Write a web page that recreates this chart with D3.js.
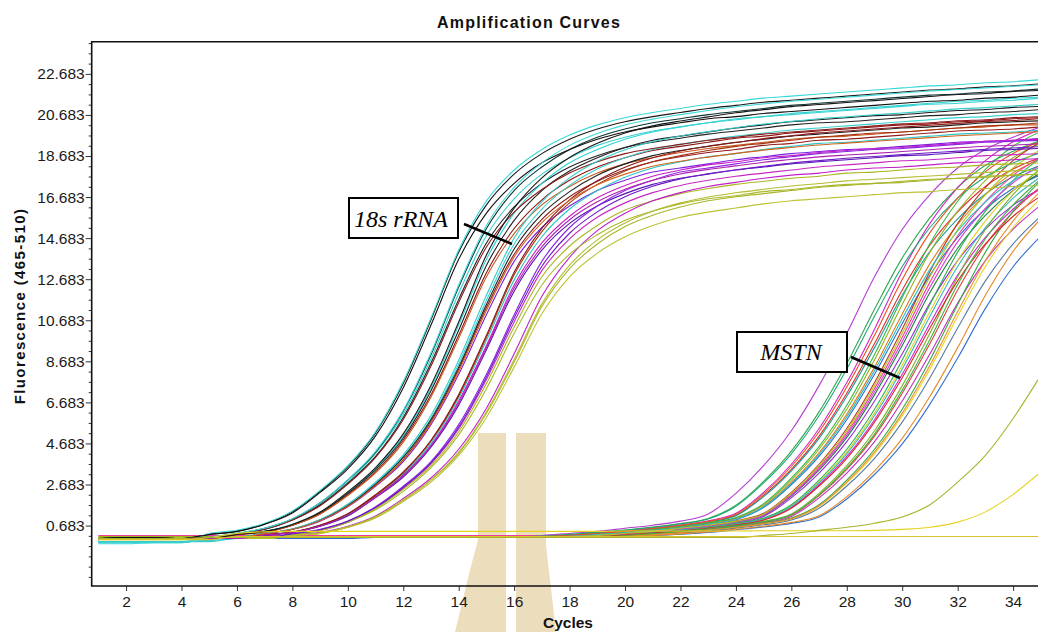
<!DOCTYPE html>
<html><head><meta charset="utf-8">
<script src="https://cdn.jsdelivr.net/npm/d3@7"></script>
<style>
html,body{margin:0;padding:0;background:#fff;}
svg{display:block;}
</style></head><body>
<svg id="chart" width="1038" height="632"></svg>
<script>
// ---------------- data ----------------
const cycles = [1,2,3,4,5,6,7,8,9,10,11,12,13,14,15,16,17,18,19,20,21,22,23,24,25,26,27,28,29,30,31,32,33,34,35];
const xTicks = [2,4,6,8,10,12,14,16,18,20,22,24,26,28,30,32,34];
const yTicks = [0.683,2.683,4.683,6.683,8.683,10.683,12.683,14.683,16.683,18.683,20.683,22.683];

const rrna18sColors = ["#1a1a1a","#38d8d8","#38d0d0","#0e3434","#222222","#30d4d4","#8e1414","#1e1e1e","#c85a1e","#3cd0d0","#901c1c","#7b1fe0","#202020","#c81ec8","#2cc4c4","#5a14b4","#a4300e","#c828c0","#8a28e0","#a9b520","#c020c8","#a8b42a","#bcc232","#aab828","#111111","#8a1a1a","#40dada","#181818","#34cccc","#8c1818","#6a18c8","#b4bc30","#d0641e","#b020b0"];
const rrna18sValues = [
[0.0,0.1,0.05,0.05,0.25,0.4,0.75,1.35,2.35,3.55,5.2,7.6,10.7,14.0,16.3,17.8,18.8,19.5,20.0,20.35,20.6,20.8,21.0,21.15,21.3,21.4,21.5,21.6,21.7,21.8,21.9,21.95,22.05,22.1,22.2],
[-0.2,-0.2,-0.15,-0.15,0.3,0.45,0.8,1.4,2.4,3.6,5.25,7.7,10.8,14.1,16.5,18.0,19.0,19.7,20.2,20.55,20.8,21.0,21.2,21.35,21.5,21.6,21.7,21.8,21.9,22.0,22.1,22.15,22.25,22.3,22.4],
[-0.15,-0.15,-0.15,-0.15,0.1,0.3,0.5,1.0,1.75,2.8,4.2,6.1,8.8,12.0,14.8,16.6,17.8,18.6,19.2,19.6,19.9,20.1,20.3,20.45,20.6,20.7,20.8,20.9,21.0,21.1,21.2,21.25,21.35,21.4,21.5],
[0.05,0.05,0.05,0.05,0.1,0.3,0.55,1.0,1.8,2.9,4.25,6.25,9.0,12.3,15.15,17.0,18.15,19.0,19.6,20.0,20.3,20.5,20.7,20.85,21.0,21.15,21.25,21.35,21.45,21.55,21.65,21.7,21.8,21.85,21.95],
[0.05,0.05,0.05,0.05,0.1,0.3,0.5,0.95,1.7,2.75,4.05,5.95,8.6,11.7,14.45,16.2,17.35,18.15,18.7,19.1,19.35,19.55,19.75,19.9,20.05,20.2,20.3,20.35,20.45,20.55,20.65,20.7,20.8,20.85,20.95],
[-0.1,-0.1,-0.1,-0.1,0.0,0.25,0.4,0.75,1.3,2.3,3.45,5.05,7.4,10.45,13.65,15.9,17.35,18.35,19.0,19.5,19.85,20.1,20.3,20.5,20.6,20.75,20.85,20.95,21.05,21.15,21.25,21.35,21.4,21.5,21.55],
[0.05,0.05,0.05,0.05,0.05,0.25,0.35,0.7,1.25,2.2,3.3,4.85,7.05,9.95,13.0,15.15,16.55,17.5,18.15,18.6,18.95,19.15,19.35,19.55,19.65,19.8,19.9,20.0,20.1,20.2,20.25,20.35,20.4,20.5,20.55],
[0.05,0.1,0.1,0.05,0.05,0.25,0.4,0.7,1.3,2.25,3.4,4.95,7.25,10.2,13.35,15.55,17.0,17.95,18.6,19.1,19.45,19.65,19.85,20.05,20.2,20.35,20.45,20.55,20.65,20.7,20.8,20.9,20.95,21.05,21.1],
[0.05,0.05,0.05,0.05,0.05,0.25,0.35,0.7,1.25,2.15,3.25,4.75,6.95,9.8,12.8,14.9,16.3,17.2,17.85,18.3,18.6,18.85,19.05,19.2,19.35,19.5,19.6,19.65,19.75,19.85,19.95,20.05,20.1,20.2,20.2],
[-0.1,-0.1,-0.1,-0.1,0.0,0.1,0.3,0.5,0.95,1.7,2.75,4.05,5.9,8.55,11.65,14.4,16.1,17.25,18.05,18.6,19.0,19.25,19.45,19.65,19.8,19.95,20.05,20.15,20.25,20.35,20.45,20.55,20.6,20.7,20.75],
[0.05,0.05,0.05,0.05,0.05,0.1,0.3,0.5,0.95,1.65,2.65,3.9,5.75,8.3,11.3,13.9,15.6,16.7,17.45,18.0,18.4,18.65,18.85,19.0,19.2,19.3,19.45,19.5,19.6,19.7,19.8,19.9,19.95,20.0,20.1],
[0.05,0.05,0.05,0.05,0.05,0.1,0.3,0.5,0.9,1.6,2.6,3.8,5.6,8.05,10.95,13.55,15.2,16.25,17.0,17.5,17.9,18.1,18.3,18.5,18.65,18.8,18.9,19.0,19.05,19.15,19.25,19.35,19.4,19.45,19.55],
[0.05,0.05,0.05,0.05,0.05,0.1,0.3,0.5,0.95,1.65,2.7,4.0,5.85,8.4,11.45,14.15,15.85,16.95,17.75,18.3,18.7,18.95,19.15,19.35,19.5,19.65,19.75,19.85,19.95,20.05,20.1,20.2,20.3,20.35,20.4],
[0.05,0.05,0.05,0.05,0.05,0.05,0.2,0.35,0.65,1.2,2.1,3.15,4.6,6.75,9.45,12.4,14.45,15.75,16.65,17.25,17.7,18.0,18.25,18.4,18.6,18.7,18.85,18.95,19.05,19.1,19.2,19.3,19.4,19.45,19.5],
[-0.1,-0.1,-0.1,-0.1,-0.05,0.05,0.25,0.35,0.7,1.2,2.15,3.2,4.7,6.9,9.7,12.65,14.75,16.1,17.0,17.65,18.1,18.4,18.65,18.8,19.0,19.15,19.3,19.35,19.45,19.55,19.65,19.75,19.8,19.85,19.95],
[0.05,0.05,0.05,0.05,0.05,0.05,0.2,0.35,0.65,1.15,2.05,3.05,4.5,6.55,9.25,12.1,14.1,15.4,16.25,16.85,17.3,17.6,17.8,18.0,18.15,18.3,18.4,18.5,18.6,18.7,18.75,18.85,18.95,19.0,19.05],
[0.05,0.05,0.05,0.05,0.05,0.05,0.25,0.35,0.7,1.25,2.15,3.25,4.8,7.0,9.85,12.9,15.0,16.4,17.3,17.95,18.4,18.7,18.95,19.15,19.3,19.45,19.6,19.7,19.8,19.85,19.95,20.05,20.15,20.2,20.3],
[0.05,0.05,0.05,0.05,0.05,0.05,0.1,0.25,0.45,0.85,1.55,2.5,3.7,5.4,7.8,10.6,13.1,14.65,15.7,16.4,16.9,17.25,17.5,17.7,17.85,18.0,18.15,18.25,18.35,18.45,18.5,18.6,18.7,18.75,18.8],
[0.05,0.05,0.05,0.05,0.05,0.05,0.1,0.3,0.5,0.9,1.6,2.6,3.8,5.6,8.05,10.95,13.55,15.2,16.25,17.0,17.5,17.9,18.1,18.3,18.5,18.65,18.8,18.9,19.0,19.05,19.15,19.25,19.35,19.4,19.45],
[0.05,0.05,0.05,0.05,0.05,0.05,0.1,0.25,0.45,0.85,1.5,2.45,3.6,5.25,7.6,10.35,12.8,14.3,15.3,16.05,16.5,16.85,17.1,17.3,17.45,17.6,17.7,17.85,17.9,18.0,18.1,18.15,18.25,18.3,18.35],
[0.05,0.05,0.05,0.05,0.05,0.05,0.05,0.2,0.35,0.65,1.15,2.0,3.0,4.4,6.4,9.05,11.85,13.75,15.05,15.9,16.5,16.9,17.2,17.4,17.6,17.75,17.85,18.0,18.1,18.15,18.25,18.35,18.4,18.5,18.55],
[0.05,0.05,0.05,0.05,0.05,0.05,0.05,0.2,0.3,0.6,1.1,1.9,2.9,4.2,6.15,8.65,11.35,13.2,14.4,15.25,15.8,16.2,16.5,16.7,16.85,17.0,17.15,17.25,17.35,17.4,17.5,17.6,17.65,17.75,17.8],
[0.05,0.05,0.05,0.05,0.05,0.05,0.05,0.2,0.3,0.6,1.05,1.85,2.8,4.1,5.95,8.4,11.0,12.8,13.95,14.75,15.3,15.7,15.95,16.15,16.35,16.5,16.6,16.7,16.8,16.9,16.95,17.05,17.1,17.2,17.25],
[0.05,0.05,0.05,0.05,0.05,0.05,0.1,0.25,0.45,0.85,1.45,2.35,3.5,5.1,7.35,10.05,12.4,13.9,14.85,15.55,16.0,16.35,16.6,16.75,16.95,17.05,17.2,17.3,17.35,17.45,17.55,17.6,17.7,17.75,17.8],
[0.05,0.1,0.1,0.05,0.25,0.4,0.75,1.3,2.3,3.45,5.05,7.4,10.45,13.65,15.9,17.35,18.35,19.0,19.5,19.85,20.1,20.3,20.5,20.6,20.75,20.85,20.95,21.05,21.15,21.25,21.35,21.4,21.5,21.55,21.65],
[0.05,0.05,0.05,0.05,0.1,0.3,0.5,0.95,1.65,2.7,4.0,5.85,8.45,11.55,14.25,15.95,17.05,17.85,18.4,18.8,19.05,19.25,19.45,19.6,19.75,19.85,19.95,20.05,20.15,20.25,20.3,20.4,20.45,20.55,20.6],
[-0.1,-0.1,-0.1,-0.1,0.1,0.32,0.55,1.02,1.8,2.92,4.3,6.3,9.1,12.4,15.3,17.15,18.35,19.2,19.78,20.2,20.48,20.7,20.9,21.08,21.22,21.35,21.45,21.55,21.65,21.75,21.85,21.92,22.0,22.08,22.15],
[0.05,0.05,0.05,0.05,0.05,0.25,0.4,0.74,1.34,2.33,3.51,5.15,7.52,10.6,13.86,16.14,17.62,18.61,19.3,19.8,20.15,20.39,20.59,20.79,20.94,21.09,21.19,21.29,21.38,21.48,21.58,21.68,21.73,21.83,21.88],
[-0.1,-0.1,-0.1,-0.1,-0.1,0.1,0.31,0.53,0.98,1.73,2.8,4.13,6.05,8.74,11.9,14.69,16.46,17.62,18.43,18.99,19.39,19.66,19.87,20.06,20.24,20.37,20.5,20.59,20.69,20.78,20.88,20.98,21.04,21.12,21.2],
[0.05,0.05,0.05,0.05,0.05,0.05,0.23,0.37,0.7,1.26,2.19,3.3,4.84,7.07,9.95,13.02,15.16,16.55,17.48,18.14,18.6,18.93,19.16,19.34,19.53,19.67,19.81,19.9,20.0,20.09,20.18,20.27,20.37,20.41,20.51],
[0.05,0.05,0.05,0.05,0.05,0.05,0.09,0.28,0.48,0.89,1.57,2.54,3.74,5.48,7.92,10.79,13.31,14.92,15.96,16.7,17.21,17.57,17.82,18.01,18.18,18.34,18.46,18.57,18.66,18.75,18.84,18.92,19.01,19.07,19.14],
[0.05,0.05,0.05,0.05,0.05,0.05,0.05,0.21,0.33,0.62,1.11,1.93,2.91,4.26,6.23,8.77,11.48,13.37,14.6,15.42,15.99,16.4,16.69,16.89,17.06,17.22,17.34,17.47,17.55,17.63,17.71,17.79,17.88,17.96,18.0],
[0.05,0.05,0.05,0.05,0.05,0.09,0.29,0.5,0.92,1.62,2.63,3.87,5.67,8.19,11.16,13.77,15.44,16.52,17.28,17.8,18.18,18.43,18.63,18.81,18.97,19.1,19.22,19.31,19.4,19.49,19.58,19.67,19.73,19.8,19.87],
[0.05,0.05,0.05,0.05,0.05,0.05,0.22,0.35,0.66,1.18,2.06,3.11,4.55,6.65,9.36,12.25,14.26,15.58,16.45,17.06,17.5,17.81,18.03,18.2,18.38,18.51,18.64,18.73,18.81,18.9,18.99,19.08,19.16,19.21,19.29]
];

const mstnColors = ["#b43cd2","#2fa84f","#d028c8","#dd3030","#1c9c9c","#9cb020","#e07a20","#3a6ad0","#38b848","#f03c9c","#208040","#b83a1a","#9a2ad8","#e0d020","#2cb050","#d02ad0","#30b8c0","#e04040","#7fb030","#c030c0","#e8d420","#5a7aa0","#3aa848","#3070d0","#e88a28","#20a878","#e85020","#28c0c8","#d040d0","#d82828","#40b040","#e89030","#b0c820"];
const mstnValues = [
[0.1,0.1,0.1,0.1,0.1,0.1,0.1,0.1,0.1,0.1,0.1,0.1,0.1,0.1,0.1,0.15,0.2,0.3,0.4,0.55,0.7,0.9,1.25,2.25,3.6,5.3,7.5,10.05,12.8,15.1,16.8,18.1,19.0,19.6,20.1],
[0.1,0.1,0.1,0.1,0.1,0.1,0.1,0.1,0.1,0.1,0.1,0.1,0.1,0.1,0.1,0.12,0.17,0.25,0.35,0.46,0.61,0.78,1.03,1.67,2.84,4.31,6.22,8.58,11.22,13.72,15.68,17.15,18.23,18.91,19.45],
[0.1,0.1,0.1,0.1,0.1,0.1,0.1,0.1,0.1,0.1,0.1,0.1,0.1,0.1,0.1,0.1,0.15,0.2,0.3,0.4,0.56,0.71,0.92,1.28,2.3,3.67,5.41,7.65,10.25,13.06,15.4,17.14,18.46,19.38,19.99],
[0.05,0.05,0.05,0.05,0.05,0.1,0.1,0.1,0.1,0.1,0.1,0.1,0.1,0.1,0.1,0.1,0.14,0.19,0.29,0.38,0.52,0.67,0.86,1.19,2.14,3.42,5.04,7.13,9.55,12.16,14.35,15.96,17.2,18.05,18.62],
[0.1,0.1,0.1,0.1,0.1,0.1,0.1,0.1,0.1,0.1,0.1,0.1,0.1,0.1,0.1,0.1,0.14,0.19,0.28,0.37,0.51,0.65,0.84,1.16,2.09,3.35,4.93,6.98,9.35,11.9,14.04,15.62,16.83,17.67,18.23],
[0.15,0.15,0.15,0.15,0.15,0.15,0.15,0.15,0.15,0.15,0.15,0.15,0.15,0.15,0.15,0.15,0.15,0.17,0.25,0.35,0.47,0.62,0.8,1.05,1.7,2.9,4.4,6.35,8.75,11.45,14.0,16.0,17.5,18.6,19.3],
[0.1,0.1,0.1,0.1,0.1,0.1,0.1,0.1,0.1,0.1,0.1,0.1,0.1,0.1,0.1,0.1,0.12,0.16,0.24,0.34,0.45,0.6,0.77,1.01,1.63,2.78,4.22,6.1,8.4,10.99,13.44,15.36,16.8,17.86,18.53],
[0.05,0.05,0.05,0.05,0.05,0.05,0.05,0.05,0.05,0.05,0.1,0.1,0.1,0.1,0.1,0.1,0.11,0.16,0.23,0.32,0.43,0.57,0.74,0.97,1.56,2.67,4.05,5.84,8.05,10.53,12.88,14.72,16.1,17.11,17.76],
[0.1,0.1,0.1,0.1,0.1,0.1,0.1,0.1,0.1,0.1,0.1,0.1,0.1,0.1,0.1,0.1,0.12,0.18,0.26,0.36,0.48,0.64,0.82,1.08,1.75,2.99,4.53,6.54,9.01,11.79,14.42,16.48,18.03,19.16,19.88],
[0.2,0.2,0.2,0.2,0.2,0.2,0.2,0.2,0.2,0.2,0.2,0.2,0.2,0.2,0.2,0.2,0.2,0.2,0.22,0.29,0.39,0.54,0.69,0.88,1.23,2.21,3.53,5.19,7.35,9.85,12.54,14.8,16.46,17.74,18.62],
[0.1,0.1,0.1,0.1,0.1,0.1,0.1,0.1,0.1,0.1,0.1,0.1,0.1,0.1,0.1,0.1,0.1,0.14,0.19,0.28,0.38,0.52,0.66,0.85,1.18,2.12,3.38,4.98,7.05,9.45,12.03,14.19,15.79,17.01,17.86],
[0.1,0.1,0.1,0.1,0.1,0.1,0.1,0.1,0.1,0.1,0.1,0.1,0.1,0.1,0.1,0.1,0.1,0.15,0.2,0.31,0.41,0.56,0.71,0.92,1.28,2.3,3.67,5.41,7.65,10.25,13.06,15.4,17.14,18.46,19.38],
[0.1,0.1,0.1,0.1,0.1,0.1,0.1,0.1,0.1,0.1,0.1,0.1,0.1,0.1,0.1,0.1,0.1,0.14,0.18,0.27,0.36,0.5,0.63,0.81,1.13,2.03,3.24,4.77,6.75,9.05,11.52,13.59,15.12,16.29,17.1],
[0.1,0.1,0.1,0.1,0.1,0.1,0.1,0.1,0.1,0.1,0.1,0.1,0.1,0.1,0.1,0.1,0.1,0.12,0.17,0.24,0.34,0.46,0.6,0.78,1.02,1.65,2.81,4.27,6.16,8.49,11.11,13.58,15.52,16.98,18.04],
[0.1,0.1,0.1,0.1,0.1,0.1,0.1,0.1,0.1,0.1,0.1,0.1,0.1,0.1,0.1,0.1,0.1,0.12,0.17,0.25,0.35,0.47,0.62,0.8,1.05,1.7,2.9,4.4,6.35,8.75,11.45,14.0,16.0,17.5,18.6],
[0.1,0.1,0.1,0.1,0.1,0.1,0.1,0.1,0.1,0.1,0.1,0.1,0.1,0.1,0.1,0.1,0.1,0.1,0.16,0.23,0.32,0.43,0.57,0.74,0.97,1.56,2.67,4.05,5.84,8.05,10.53,12.88,14.72,16.1,17.11],
[0.1,0.1,0.1,0.1,0.1,0.1,0.1,0.1,0.1,0.1,0.1,0.1,0.1,0.1,0.1,0.1,0.1,0.1,0.16,0.24,0.33,0.45,0.59,0.76,1.0,1.62,2.76,4.18,6.03,8.31,10.88,13.3,15.2,16.63,17.67],
[0.1,0.1,0.1,0.1,0.1,0.1,0.1,0.1,0.1,0.1,0.1,0.1,0.1,0.1,0.1,0.1,0.1,0.1,0.14,0.19,0.29,0.38,0.52,0.67,0.86,1.19,2.14,3.42,5.04,7.13,9.55,12.16,14.35,15.96,17.2],
[0.1,0.1,0.1,0.1,0.1,0.1,0.1,0.1,0.1,0.1,0.1,0.1,0.1,0.1,0.1,0.1,0.1,0.1,0.15,0.2,0.3,0.4,0.55,0.7,0.9,1.25,2.25,3.6,5.3,7.5,10.05,12.8,15.1,16.8,18.1],
[0.1,0.1,0.1,0.1,0.1,0.1,0.1,0.1,0.1,0.1,0.1,0.1,0.1,0.1,0.1,0.1,0.1,0.1,0.12,0.18,0.27,0.36,0.5,0.63,0.81,1.13,2.03,3.24,4.77,6.75,9.05,11.52,13.59,15.12,16.29],
[0.1,0.1,0.1,0.1,0.1,0.1,0.1,0.1,0.1,0.1,0.1,0.1,0.1,0.1,0.1,0.1,0.1,0.1,0.12,0.16,0.24,0.33,0.45,0.59,0.76,1.0,1.62,2.76,4.18,6.03,8.31,10.88,13.3,15.2,16.63],
[0.1,0.1,0.1,0.1,0.1,0.1,0.1,0.1,0.1,0.1,0.1,0.1,0.1,0.1,0.1,0.1,0.1,0.1,0.1,0.15,0.22,0.32,0.42,0.56,0.72,0.95,1.53,2.61,3.96,5.72,7.88,10.31,12.6,14.4,15.75],
[0.1,0.1,0.1,0.1,0.1,0.1,0.1,0.1,0.1,0.1,0.1,0.1,0.1,0.1,0.1,0.1,0.1,0.1,0.1,0.16,0.25,0.35,0.47,0.62,0.8,1.05,1.7,2.9,4.4,6.35,8.75,11.45,14.0,16.0,17.5],
[0.1,0.1,0.1,0.1,0.1,0.1,0.1,0.1,0.1,0.1,0.1,0.1,0.1,0.1,0.1,0.1,0.1,0.1,0.1,0.13,0.18,0.26,0.35,0.48,0.62,0.79,1.1,1.98,3.17,4.66,6.6,8.84,11.26,13.29,14.78],
[0.1,0.1,0.1,0.1,0.1,0.1,0.1,0.1,0.1,0.1,0.1,0.1,0.1,0.1,0.1,0.1,0.1,0.1,0.1,0.14,0.2,0.28,0.37,0.51,0.65,0.84,1.16,2.09,3.35,4.93,6.98,9.35,11.9,14.04,15.62],
[0.1,0.1,0.1,0.1,0.1,0.1,0.1,0.1,0.1,0.1,0.1,0.1,0.1,0.1,0.1,0.12,0.17,0.25,0.35,0.45,0.59,0.76,1.0,1.62,2.76,4.18,6.03,8.31,10.88,13.3,15.2,16.63,17.67,18.34,18.86],
[0.1,0.1,0.1,0.1,0.1,0.1,0.1,0.1,0.1,0.1,0.1,0.1,0.1,0.1,0.1,0.1,0.15,0.2,0.3,0.4,0.54,0.69,0.89,1.24,2.23,3.56,5.25,7.43,9.95,12.67,14.95,16.63,17.92,18.81,19.4],
[0.1,0.1,0.1,0.1,0.1,0.1,0.1,0.1,0.1,0.1,0.1,0.1,0.1,0.1,0.1,0.1,0.12,0.16,0.24,0.33,0.44,0.58,0.75,0.99,1.6,2.73,4.14,5.97,8.23,10.76,13.16,15.04,16.45,17.48,18.14],
[0.1,0.1,0.1,0.1,0.1,0.1,0.1,0.1,0.1,0.1,0.1,0.1,0.1,0.1,0.1,0.1,0.1,0.14,0.19,0.29,0.38,0.53,0.67,0.86,1.2,2.16,3.46,5.09,7.2,9.65,12.29,14.5,16.13,17.38,18.24],
[0.1,0.1,0.1,0.1,0.1,0.1,0.1,0.1,0.1,0.1,0.1,0.1,0.1,0.1,0.1,0.1,0.1,0.11,0.15,0.23,0.32,0.42,0.56,0.72,0.95,1.53,2.61,3.96,5.72,7.88,10.31,12.6,14.4,15.75,16.74],
[0.1,0.1,0.1,0.1,0.1,0.1,0.1,0.1,0.1,0.1,0.1,0.1,0.1,0.1,0.1,0.1,0.1,0.1,0.15,0.19,0.29,0.39,0.53,0.68,0.87,1.21,2.18,3.49,5.14,7.28,9.75,12.42,14.65,16.3,17.56],
[0.1,0.1,0.1,0.1,0.1,0.1,0.1,0.1,0.1,0.1,0.1,0.1,0.1,0.1,0.1,0.1,0.1,0.1,0.1,0.16,0.23,0.34,0.46,0.6,0.78,1.02,1.65,2.81,4.27,6.16,8.49,11.11,13.58,15.52,16.98],
[0.1,0.1,0.1,0.1,0.1,0.1,0.1,0.1,0.1,0.1,0.1,0.1,0.1,0.1,0.1,0.1,0.1,0.15,0.2,0.3,0.4,0.55,0.7,0.9,1.25,2.25,3.6,5.3,7.5,10.05,12.8,15.1,16.8,18.1,19.0]
];

const lateColors = ["#e4d21c","#a8b42c","#d8c428"];
const lateValues = [
[0.0,0.0,0.0,0.0,0.1,0.3,0.38,0.4,0.4,0.4,0.4,0.4,0.4,0.4,0.4,0.4,0.4,0.4,0.4,0.42,0.42,0.42,0.42,0.42,0.43,0.43,0.43,0.43,0.45,0.5,0.6,0.85,1.35,2.2,3.3],
[0.05,0.05,0.05,0.05,0.1,0.1,0.1,0.1,0.1,0.1,0.1,0.1,0.1,0.1,0.1,0.1,0.1,0.1,0.1,0.1,0.1,0.1,0.1,0.1,0.2,0.3,0.45,0.6,0.8,1.1,1.7,2.8,4.1,5.9,8.0],
[0.0,0.0,0.0,0.0,0.0,0.15,0.15,0.15,0.15,0.15,0.15,0.15,0.15,0.15,0.15,0.15,0.15,0.15,0.15,0.15,0.15,0.15,0.15,0.15,0.15,0.15,0.15,0.15,0.15,0.15,0.15,0.15,0.15,0.15,0.15]
];

// ---------------- layout ----------------
const W = 1038, H = 632;
const plotL = 91.7, plotT = 41.7, plotB = 586, plotR = 1070;
const x = d3.scaleLinear().domain([0.76, 35.9]).range([plotL, plotL + 35.14 * 27.72]);
const y = d3.scaleLinear().domain([-2.26, 24.25]).range([plotB, plotT]);

const svg = d3.select("#chart");
svg.append("rect").attr("width", W).attr("height", H).attr("fill", "#fff");

svg.append("defs").append("clipPath").attr("id", "plotClip")
  .append("rect").attr("x", plotL).attr("y", plotT).attr("width", plotR - plotL).attr("height", plotB - plotT);

// watermark (light tan logo in the lower middle)
const wm = svg.append("g").attr("fill", "#ead9b6").attr("opacity", 0.9);
wm.append("path").attr("d", "M478,433 L506,433 L506,632 L455,632 L470,570 L478,540 Z");
wm.append("path").attr("d", "M516,433 L546,433 L546,545 L556,632 L516,632 Z");

const lineGen = d3.line()
  .x((d, i) => x(cycles[i]))
  .y(d => y(d))
  .curve(d3.curveMonotoneX);

const curves = svg.append("g").attr("clip-path", "url(#plotClip)").attr("fill", "none");

function drawGroup(values, colors, cls) {
  curves.selectAll("path." + cls)
    .data(values)
    .join("path")
    .attr("class", cls)
    .attr("d", d => lineGen(d))
    .attr("stroke", (d, i) => colors[i % colors.length])
    .attr("stroke-width", 1.1);
}
drawGroup(mstnValues, mstnColors, "mstn");
drawGroup(rrna18sValues, rrna18sColors, "rrna");
drawGroup(lateValues, lateColors, "late");

// ---------------- axes ----------------
const tickFont = "'Liberation Sans', Arial, sans-serif";

const yMinor = d3.range(-1.817, 24.2, 0.5).filter(v => !yTicks.some(t => Math.abs(t - v) < 1e-6));
const yMinorAxis = svg.append("g").attr("transform", `translate(${plotL},0)`)
  .call(d3.axisLeft(y).tickValues(yMinor).tickSize(3).tickFormat(""));
yMinorAxis.select(".domain").remove();
yMinorAxis.selectAll("line").attr("stroke", "#333");

const yAxis = svg.append("g").attr("transform", `translate(${plotL},0)`)
  .call(d3.axisLeft(y).tickValues(yTicks).tickSize(6).tickPadding(1).tickFormat(d3.format(".3f")));
yAxis.select(".domain").remove();
yAxis.selectAll("line").attr("stroke", "#333");
yAxis.selectAll("text").attr("font-family", tickFont).attr("font-size", "15.5px").attr("fill", "#1a1a1a");

const xAxis = svg.append("g").attr("transform", `translate(0,${plotB})`)
  .call(d3.axisBottom(x).tickValues(xTicks).tickSize(5).tickPadding(5).tickFormat(d3.format("d")));
xAxis.select(".domain").remove();
xAxis.selectAll("line").attr("stroke", "#333");
xAxis.selectAll("text").attr("font-family", tickFont).attr("font-size", "15.5px").attr("fill", "#1a1a1a");

// frame
svg.append("path")
  .attr("d", `M${W + 5},${plotT} L${plotL},${plotT} L${plotL},${plotB} L${W + 5},${plotB}`)
  .attr("fill", "none").attr("stroke", "#111").attr("stroke-width", 1.6);

// ---------------- titles ----------------
svg.append("text").attr("x", 529).attr("y", 28).attr("text-anchor", "middle")
  .attr("font-family", tickFont).attr("font-weight", "bold").attr("font-size", "16px")
  .attr("letter-spacing", "1.2px").attr("fill", "#111").text("Amplification Curves");

svg.append("text").attr("transform", "translate(25,306) rotate(-90)").attr("text-anchor", "middle")
  .attr("font-family", tickFont).attr("font-weight", "bold").attr("font-size", "15px")
  .attr("letter-spacing", "1.4px").attr("fill", "#111").text("Fluorescence (465-510)");

svg.append("text").attr("x", 568).attr("y", 628).attr("text-anchor", "middle")
  .attr("font-family", tickFont).attr("font-weight", "bold").attr("font-size", "15.5px")
  .attr("fill", "#111").text("Cycles");

// ---------------- annotations ----------------
const serif = "'Liberation Serif', 'Times New Roman', serif";
function label(bx, by, bw, bh, txt, tx, ty, l) {
  svg.append("line").attr("x1", l[0]).attr("y1", l[1]).attr("x2", l[2]).attr("y2", l[3])
    .attr("stroke", "#000").attr("stroke-width", 2.5);
  svg.append("rect").attr("x", bx).attr("y", by).attr("width", bw).attr("height", bh)
    .attr("fill", "#fff").attr("stroke", "#000").attr("stroke-width", 2);
  svg.append("text").attr("x", tx).attr("y", ty).attr("text-anchor", "middle")
    .attr("font-family", serif).attr("font-style", "italic").attr("font-size", "24px")
    .attr("fill", "#000").text(txt);
}
label(349, 198, 109, 40, "18s rRNA", 401, 227, [464, 224, 512, 244]);
label(737, 332, 110, 40, "MSTN", 791, 360, [851, 357, 900, 378]);
</script>
</body></html>
